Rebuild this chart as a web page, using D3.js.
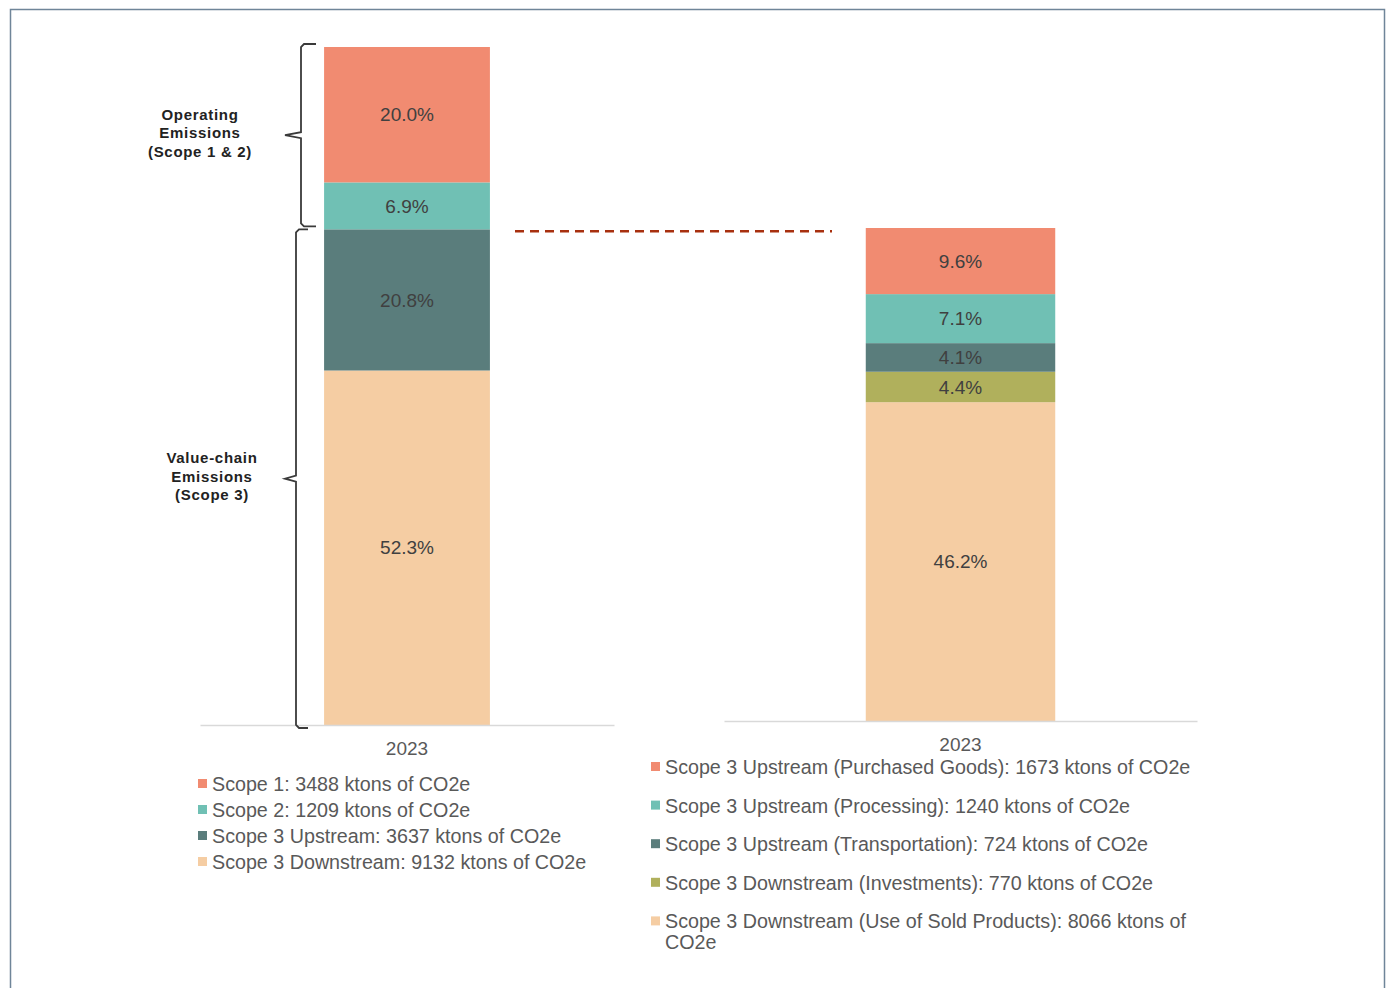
<!DOCTYPE html>
<html>
<head>
<meta charset="utf-8">
<script src="https://cdn.jsdelivr.net/npm/d3@7"></script>
<style>
  body { margin: 0; background: #fff; }
  text { font-family: "Liberation Sans", Arial, sans-serif; }
</style>
</head>
<body>
<div id="chart"></div>
<script>
// data (ktons of CO2e)
var category = ["2023"];
var leftKeys = ["Scope 1", "Scope 2", "Scope 3 Upstream", "Scope 3 Downstream"];
var leftValues = [3488, 1209, 3637, 9132];
var leftColors = ["#F18B71", "#70C0B4", "#5A7D7C", "#F5CDA3"];

var rightKeys = ["Scope 3 Upstream (Purchased Goods)", "Scope 3 Upstream (Processing)",
  "Scope 3 Upstream (Transportation)", "Scope 3 Downstream (Investments)",
  "Scope 3 Downstream (Use of Sold Products)"];
var rightValues = [1673, 1240, 724, 770, 8066];
var rightColors = ["#F18B71", "#70C0B4", "#5A7D7C", "#B0B05C", "#F5CDA3"];

var bracketLabels = [["Operating", "Emissions", "(Scope 1 & 2)"], ["Value-chain", "Emissions", "(Scope 3)"]];

var width = 1390, height = 988;
var grandTotal = d3.sum(leftValues);

var svg = d3.select("#chart").append("svg")
  .attr("width", width)
  .attr("height", height);

// outer frame
svg.append("rect")
  .attr("x", 10.5).attr("y", 9.5)
  .attr("width", 1374).attr("height", 1000)
  .attr("fill", "none")
  .attr("stroke", "#6f8599")
  .attr("stroke-width", 1.5);

function drawPanel(keys, values, colors, opt) {
  var row = {cat: category[0]};
  keys.forEach(function(k, i) { row[k] = values[i]; });
  // stack bottom-up: last key at the bottom
  var stack = d3.stack().keys(keys.slice().reverse())([row]);

  var x = d3.scaleBand().domain(category).range([opt.x0, opt.x1]).padding(0.428);
  var y = d3.scaleLinear().domain([0, d3.sum(values)]).range([opt.base, opt.top]);

  var g = svg.append("g");

  g.selectAll("rect.seg")
    .data(stack)
    .enter().append("rect")
    .attr("class", "seg")
    .attr("x", x(category[0]))
    .attr("width", x.bandwidth())
    .attr("y", function(s) { return y(s[0][1]); })
    .attr("height", function(s) { return y(s[0][0]) - y(s[0][1]); })
    .attr("fill", function(s) { return colors[keys.indexOf(s.key)]; });

  g.selectAll("text.pct")
    .data(stack)
    .enter().append("text")
    .attr("class", "pct")
    .attr("x", x(category[0]) + x.bandwidth() / 2)
    .attr("y", function(s) { return (y(s[0][0]) + y(s[0][1])) / 2; })
    .attr("dy", "0.35em")
    .attr("text-anchor", "middle")
    .attr("font-size", "19px")
    .attr("fill", "#404040")
    .text(function(s) { return (s[0].data[s.key] / grandTotal * 100).toFixed(1) + "%"; });

  // category axis
  var axis = g.append("g")
    .attr("transform", "translate(0," + opt.base + ")")
    .call(d3.axisBottom(x).tickSize(0).tickPadding(opt.tickPad));
  axis.select(".domain").attr("stroke", "#d9d9d9").attr("stroke-width", 1.5);
  axis.selectAll("text")
    .attr("font-size", "19px")
    .attr("font-family", "Liberation Sans, Arial, sans-serif")
    .attr("fill", "#595959");

  // legend
  var leg = g.selectAll("g.leg")
    .data(keys)
    .enter().append("g")
    .attr("class", "leg")
    .attr("transform", function(d, i) { return "translate(" + opt.legX + "," + (opt.legY + i * opt.legStep) + ")"; });
  leg.append("rect")
    .attr("x", 0).attr("y", -5)
    .attr("width", 9).attr("height", 9)
    .attr("fill", function(d, i) { return colors[i]; });
  leg.append("text")
    .attr("x", 14)
    .attr("dy", "0.35em")
    .attr("font-size", "19.7px")
    .attr("fill", "#595959")
    .each(function(d, i) {
      var t = d3.select(this);
      var words = (d + ": " + values[i] + " ktons of CO2e").split(" ");
      var line = [];
      var tspan = t.append("tspan").attr("x", 14);
      words.forEach(function(w) {
        line.push(w);
        tspan.text(line.join(" "));
        if (tspan.node().getComputedTextLength() > opt.legWrap && line.length > 1) {
          line.pop();
          tspan.text(line.join(" "));
          line = [w];
          tspan = t.append("tspan").attr("x", 14).attr("dy", "1.05em").text(w);
        }
      });
    });

  return {x: x, y: y};
}

var left = drawPanel(leftKeys, leftValues, leftColors,
  {x0: 200, x1: 614, base: 725, top: 47, tickPad: 17, legX: 198, legY: 784, legStep: 26, legWrap: 600});
var right = drawPanel(rightKeys, rightValues, rightColors,
  {x0: 724, x1: 1197, base: 721, top: 228, tickPad: 17, legX: 651, legY: 767, legStep: 38.6, legWrap: 535});

// dashed comparison line at the top of Scope 3 on the left bar
var scope3Top = left.y(leftValues[2] + leftValues[3]) + 2;
svg.append("line")
  .attr("x1", 515).attr("x2", 832)
  .attr("y1", scope3Top).attr("y2", scope3Top)
  .attr("stroke", "#A8300F")
  .attr("stroke-width", 2.5)
  .attr("stroke-dasharray", "9,6");

// brackets on the left of the first bar
function bracket(yTop, yBot, xv, xTip, xEnd) {
  var ym = (yTop + yBot) / 2;
  return "M" + xEnd + "," + yTop + " L" + (xv + 3) + "," + yTop + " L" + xv + "," + (yTop + 3) +
    " L" + xv + "," + (ym - 3) + " L" + xTip + "," + ym + " L" + xv + "," + (ym + 3) +
    " L" + xv + "," + (yBot - 3) + " L" + (xv + 3) + "," + yBot + " L" + xEnd + "," + yBot;
}
var yTotal = left.y(grandTotal);
var yZero = left.y(0);
var brackets = [
  {top: yTotal - 3, bot: scope3Top - 5, xv: 301, tip: 285, end: 316, dy: -2},
  {top: scope3Top - 2, bot: yZero + 3, xv: 296, tip: 285, end: 308, dy: -2}
];
svg.selectAll("path.brace")
  .data(brackets)
  .enter().append("path")
  .attr("class", "brace")
  .attr("d", function(b) { return bracket(b.top, b.bot, b.xv, b.tip, b.end); })
  .attr("fill", "none")
  .attr("stroke", "#3a3a3a")
  .attr("stroke-width", 1.8);

var labelX = [200, 212];
brackets.forEach(function(b, i) {
  var ym = (b.top + b.bot) / 2 + b.dy;
  var t = svg.append("text")
    .attr("text-anchor", "middle")
    .attr("font-size", "15px")
    .attr("font-weight", "bold")
    .attr("letter-spacing", "0.7px")
    .attr("fill", "#222");
  bracketLabels[i].forEach(function(s, j) {
    t.append("tspan")
      .attr("x", labelX[i])
      .attr("y", ym + (j - 1) * 18.5)
      .attr("dy", "0.35em")
      .text(s);
  });
});
</script>
</body>
</html>
